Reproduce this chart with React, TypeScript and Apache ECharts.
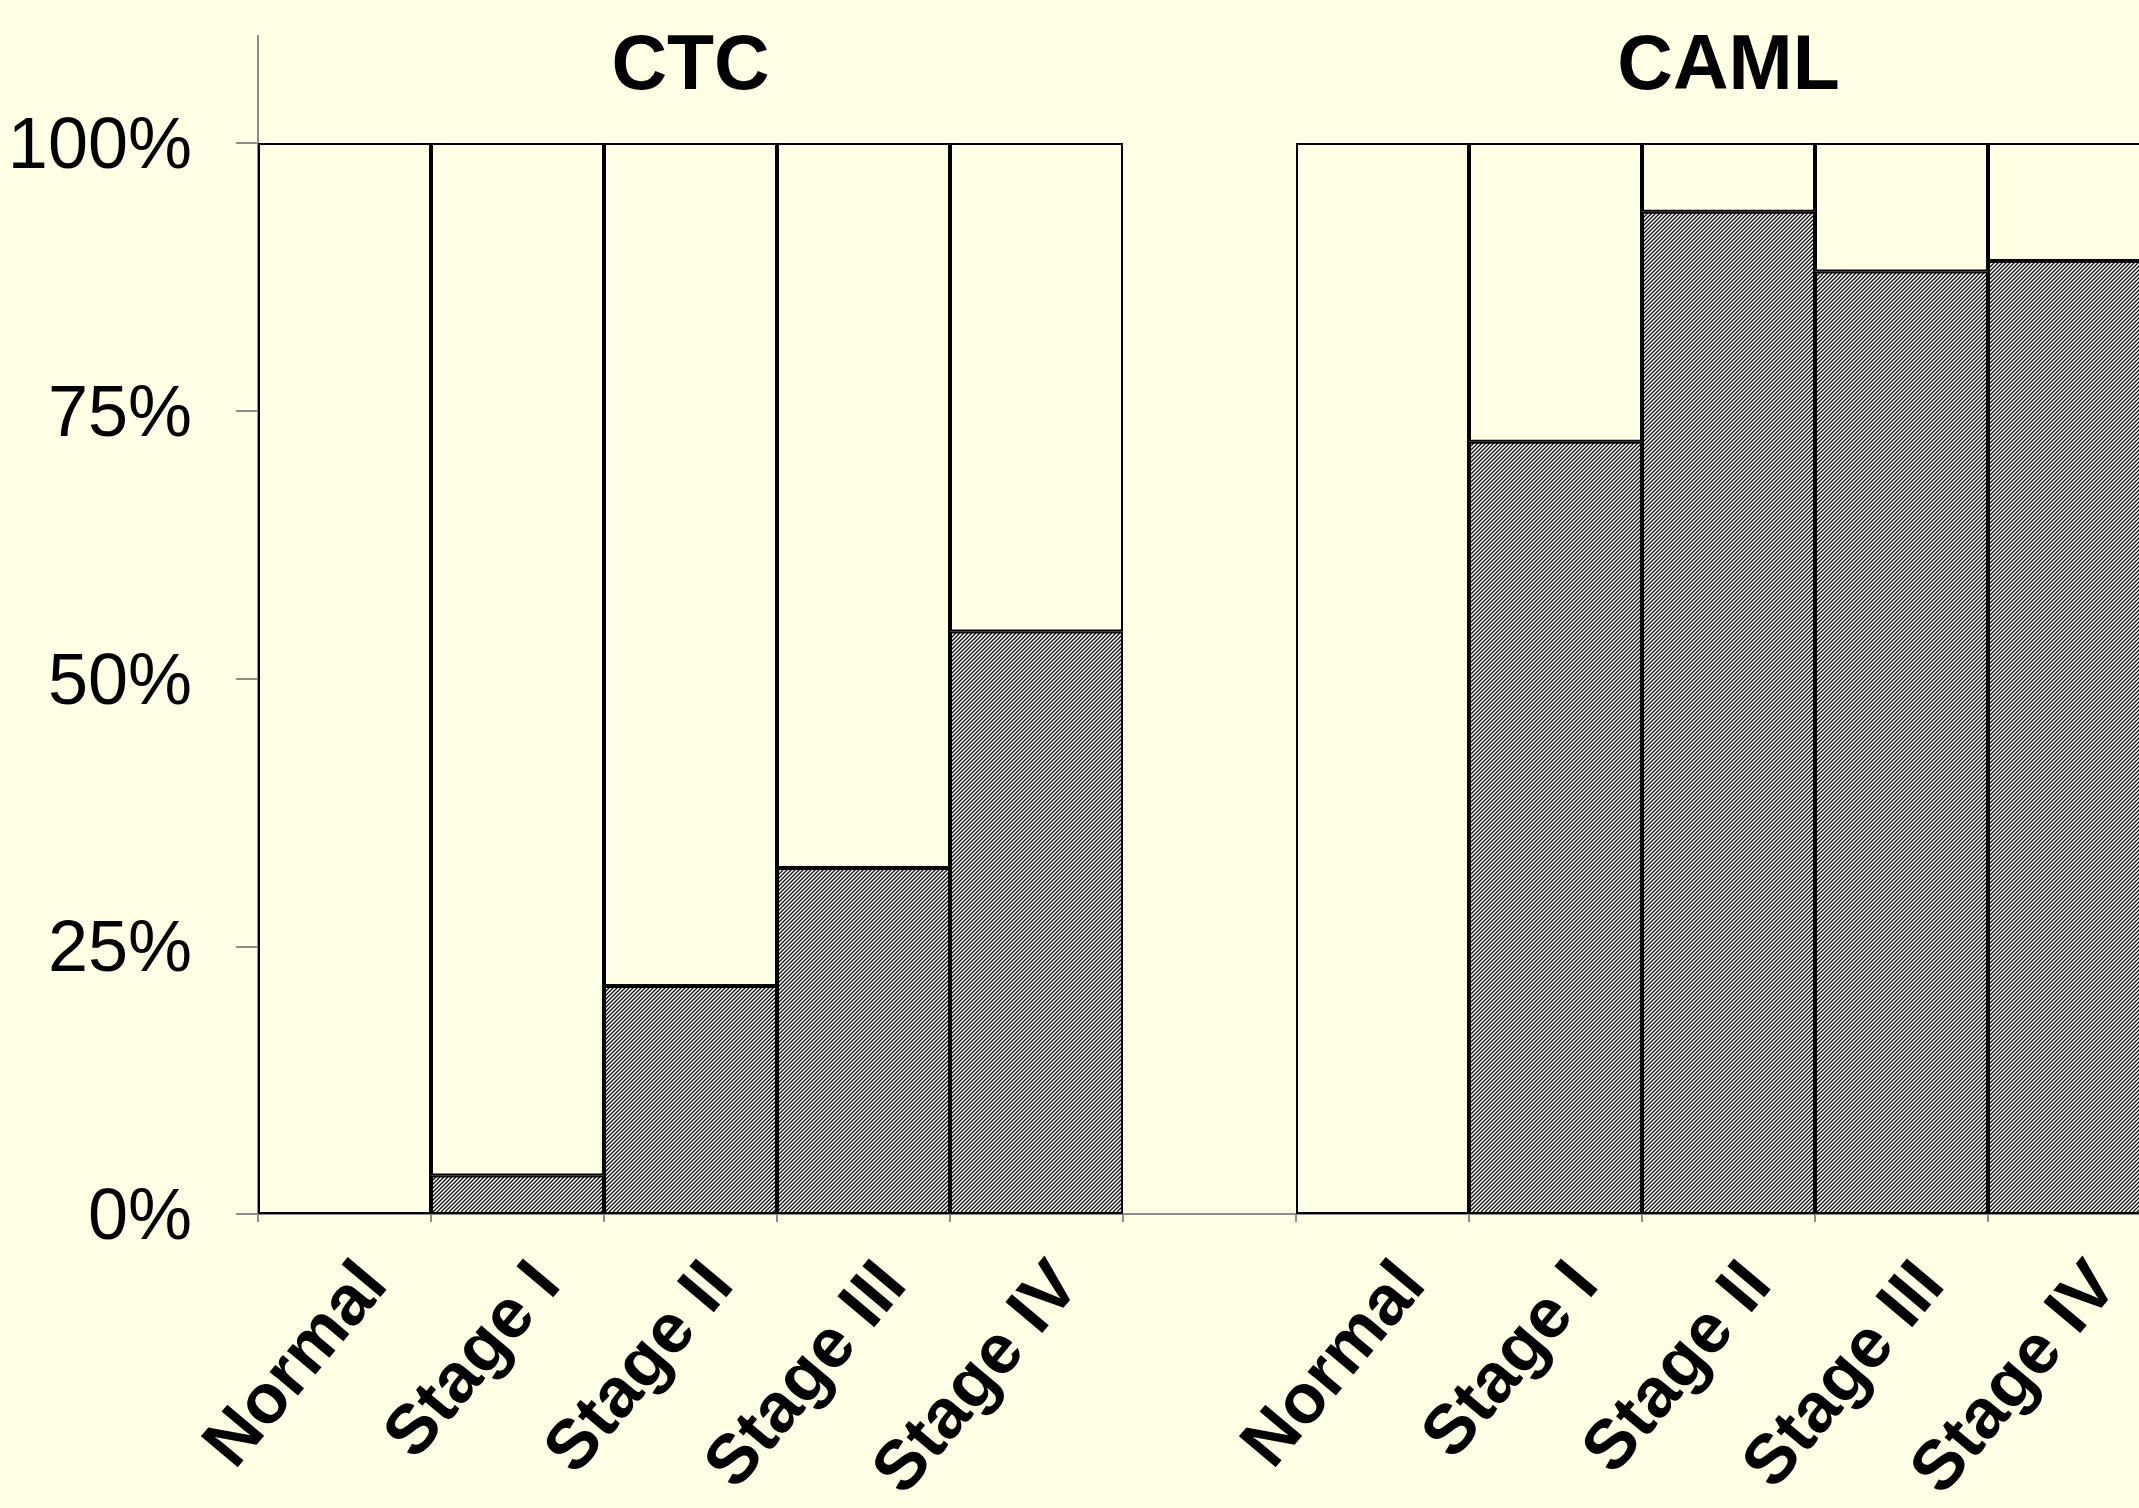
import React, { useEffect, useRef } from 'react';
import * as echarts from 'echarts';

const categories = ['Normal', 'Stage I', 'Stage II', 'Stage III', 'Stage IV', '', 'Normal', 'Stage I', 'Stage II', 'Stage III', 'Stage IV'];
const ctcPositive = [0, 3.6, 21.3, 32.3, 54.4];
const camlPositive = [0, 72.1, 93.6, 88.0, 89.0];
const panelTitles = ['CTC', 'CAML'];
const panelTitleCategoryIndex = [2, 8];
const yTickValues = [0, 25, 50, 75, 100];

const BG = '#ffffe6';
const AXIS_GRAY = '#8c8c8c';

export default function App() {
  const ref = useRef<HTMLDivElement>(null);

  useEffect(() => {
    const chart = echarts.init(ref.current!, null, { renderer: 'svg' });

    const canvas = document.createElement('canvas');
    canvas.width = 8;
    canvas.height = 8;
    const ctx = canvas.getContext('2d')!;
    const img = ctx.createImageData(8, 8);
    const shades = [10, 150, 255, 150];
    for (let y = 0; y < 8; y++) {
      for (let x = 0; x < 8; x++) {
        const v = shades[(x + y) % 4];
        const i = (y * 8 + x) * 4;
        img.data[i] = v;
        img.data[i + 1] = v;
        img.data[i + 2] = v;
        img.data[i + 3] = 255;
      }
    }
    ctx.putImageData(img, 0, 0);
    const hatch: any = { image: canvas, repeat: 'repeat' };

    const all: (number | null)[] = [...ctcPositive, null, ...camlPositive];
    const positive = all.map((v) => (v == null || v === 0 ? '-' : v));
    const remainder = all.map((v) => (v == null ? '-' : 100 - v));

    chart.setOption({
      animation: false,
      backgroundColor: BG,
      grid: { left: 258, right: -22, top: 36, bottom: 294, containLabel: false, outerBoundsMode: 'none' } as any,
      xAxis: {
        type: 'category',
        data: categories,
        boundaryGap: true,
        axisLine: { show: true, lineStyle: { color: AXIS_GRAY, width: 2 } },
        axisTick: { show: true, interval: 0, length: 8, lineStyle: { color: AXIS_GRAY, width: 2 } },
        axisLabel: {
          interval: 0,
          rotate: 50,
          align: 'right',
          verticalAlign: 'top',
          margin: 34,
          color: '#000',
          fontSize: 70,
          fontWeight: 'bold',
          fontFamily: '"Liberation Sans", Arial, sans-serif',
        },
        splitLine: { show: false },
      },
      yAxis: {
        type: 'value',
        min: 0,
        max: 110,
        axisLine: { show: true, lineStyle: { color: AXIS_GRAY, width: 2 } },
        axisTick: { show: true, length: 22, customValues: yTickValues, lineStyle: { color: AXIS_GRAY, width: 2 } },
        axisLabel: {
          customValues: yTickValues,
          formatter: (v: number) => `${v}%`,
          margin: 66,
          color: '#000',
          fontSize: 72,
          fontFamily: '"Liberation Sans", Arial, sans-serif',
        },
        splitLine: { show: false },
      } as any,
      series: [
        {
          type: 'bar',
          stack: 'total',
          barCategoryGap: '0%',
          data: positive,
          itemStyle: { color: hatch, borderColor: '#000', borderWidth: 2 },
        },
        {
          type: 'bar',
          stack: 'total',
          barCategoryGap: '0%',
          data: remainder,
          itemStyle: { color: BG, borderColor: '#000', borderWidth: 2 },
        },
      ],
    });

    const titleGraphics = panelTitles.map((t, i) => {
      const px = chart.convertToPixel({ xAxisIndex: 0 }, panelTitleCategoryIndex[i]) as number;
      return {
        type: 'text',
        x: px,
        y: 62,
        style: {
          text: t,
          fill: '#000',
          fontSize: 77,
          fontWeight: 'bold',
          fontFamily: '"Liberation Sans", Arial, sans-serif',
          align: 'center',
          verticalAlign: 'middle',
        },
      };
    });
    chart.setOption({ graphic: titleGraphics });

    return () => chart.dispose();
  }, []);

  return (
    <div
      ref={ref}
      style={{ position: 'fixed', left: 0, top: 0, width: 2139, height: 1508, background: BG }}
    />
  );
}
